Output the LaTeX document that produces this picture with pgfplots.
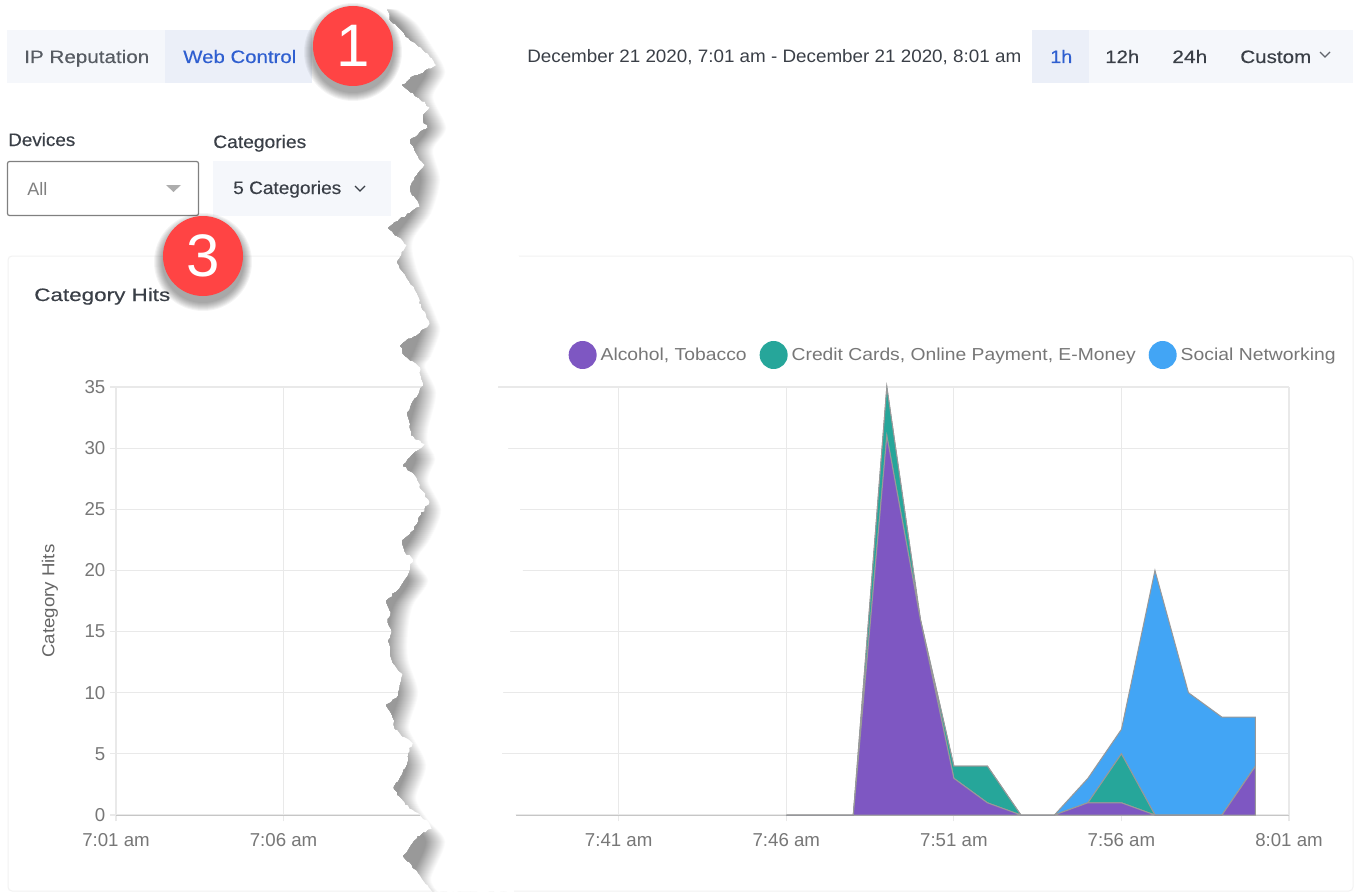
\documentclass[border=0pt]{standalone}
\usepackage{graphicx}
\usepackage{fontspec}
\setmainfont{Liberation Sans}
\newfontfamily\med[FakeBold=0.25]{Liberation Sans}
\usepackage{pgfplots}
\usetikzlibrary{decorations.pathmorphing}
\pgfplotsset{compat=1.18}
\newlength\pxu \setlength\pxu{0.75pt}
\newcommand\fit[2]{\resizebox{#1\pxu}{\height}{#2}}
\definecolor{pur}{HTML}{7E57C2}
\definecolor{grn}{HTML}{26A69A}
\definecolor{blu}{HTML}{42A5F5}
\definecolor{gridc}{HTML}{E9E9E9}
\definecolor{ticktx}{HTML}{777777}
\definecolor{soft}{HTML}{F5F7FB}
\definecolor{softb}{HTML}{EBEFF8}
\definecolor{dark}{HTML}{3A3F47}
\definecolor{linkb}{HTML}{2F5FD0}
\definecolor{badge}{HTML}{FF4444}
\def\tearJ{(390,20) -- (397,26) -- (404,33) -- (410,40) -- (418,46) -- (425,52) -- (432,58) -- (437,65) -- (428,69) -- (418,75) -- (410,79) -- (402,85) -- (410,92) -- (419,98) -- (430,107) -- (425,113) -- (423,120) -- (428,128) -- (420,132) -- (410,140) -- (414,148) -- (418,156) -- (425,165) -- (417,175) -- (410,188) -- (414,196) -- (420,207) -- (410,213) -- (398,221) -- (388,228) -- (397,236) -- (407,245) -- (402,252) -- (397,262) -- (403,272) -- (409,281) -- (417,293) -- (421,304) -- (427,318) -- (430,324) -- (420,333) -- (408,339) -- (400,346) -- (405,356) -- (413,361) -- (420,367) -- (421,376) -- (423,386) -- (417,397) -- (412,403) -- (407,413) -- (410,425) -- (411,435) -- (425,444) -- (415,452) -- (403,466) -- (412,472) -- (418,481) -- (422,490) -- (430,502) -- (421,515) -- (414,530) -- (402,541) -- (405,552) -- (413,559) -- (410,570) -- (403,583) -- (396,592) -- (386,601) -- (391,612) -- (388,623) -- (392,632) -- (388,641) -- (390,652) -- (393,663) -- (403,674) -- (400,685) -- (398,696) -- (386,705) -- (392,715) -- (395,729) -- (405,737) -- (413,743) -- (408,754) -- (407,765) -- (400,778) -- (394,789) -- (405,804) -- (420,815) -- (427,820) -- (432,829) -- (418,836) -- (410,847) -- (403,856) -- (412,865) -- (420,875) -- (433,892)}
\def\tearC{(395,10) (413,23) (428,45) (442,72) (430,97) (443,128) (430,150) (437,180) (428,213) (410,240) (413,267) (433,317) (437,331) (428,356) (422,367) (433,393) (425,429) (425,444) (432,459) (425,481) (438,510) (427,539) (413,561) (425,581) (410,605) (405,630) (405,659) (415,692) (407,721) (407,732) (423,765) (413,798) (425,820) (442,842) (428,878) (435,892)}
\begin{document}
\begin{tikzpicture}
\pgfmathsetseed{7}
\path[use as bounding box,fill=white] (0,0) rectangle (1017pt,-669pt);
\begin{scope}[x=0.75pt,y=-0.75pt]
  % card
  \draw[draw=black!5,rounded corners=3pt,line width=0.75pt] (8,256) rectangle (1353,891);
  % button groups
  \fill[soft] (7,30) rectangle (165,83);
  \fill[softb] (165,30) rectangle (312,83);
  \fill[soft] (1089,30) rectangle (1353,83);
  \fill[softb] (1032,30) rectangle (1089,83);
  \fill[soft] (213,161) rectangle (391,216);
  \draw[draw=black!50,line width=0.9pt,rounded corners=1.5pt,fill=white] (7.5,161.5) rectangle (198.5,215.5);
  \fill[black!32] (166,185) -- (181,185) -- (173.5,192) -- cycle;
  \draw[dark,line width=1pt] (355,186) -- (360,191) -- (365,186);
  \draw[dark!80,line width=1pt] (1320,52) -- (1325,57) -- (1330,52);
  \begin{scope}[every node/.style={inner sep=0pt,anchor=base west,font=\fontsize{13.5}{15}\med}]
    \node[text=dark!85] at (24,63) {\fit{125}{IP Reputation}};
    \node[text=linkb] at (183,63) {\fit{113}{Web Control}};
    \node[text=dark] at (8,146) {\fit{67}{Devices}};
    \node[text=dark] at (213,148) {\fit{93}{Categories}};
    \node[text=black!50,font=\fontsize{13.5}{15}\selectfont] at (27,195) {\fit{20}{All}};
    \node[text=dark] at (233,194) {\fit{108}{5 Categories}};
    \node[text=dark,font=\fontsize{13.5}{15}\selectfont] at (527,63) {\fit{494}{December 21 2020, 7:01 am - December 21 2020, 8:01 am}};
    \node[text=linkb] at (1050,63) {\fit{22}{1h}};
    \node[text=dark] at (1105,63) {\fit{34}{12h}};
    \node[text=dark] at (1172,63) {\fit{35}{24h}};
    \node[text=dark] at (1240,63) {\fit{71}{Custom}};
    \node[text=dark] at (34,301) {\fit{136}{Category Hits}};
  \end{scope}
\end{scope}

\begin{axis}[
  at={(87pt,-611.25pt)}, anchor=south west,
  scale only axis, width=1173\pxu, height=428\pxu,
  xmin=-15, xmax=20, ymin=0, ymax=35,
  stack plots=y,
  axis lines=left,
  x axis line style={draw=gridc!85!black,-},
  y axis line style={draw=gridc,-},
  grid=major,
  grid style={gridc,line width=0.85pt},
  tick style={draw=gridc,line width=0.85pt},
  major tick length=6\pxu,
  tick align=outside,
  xtick={-15,-10,0,5,10,15,20},
  xticklabels={7:01 am,7:06 am,7:41 am,7:46 am,7:51 am,7:56 am,8:01 am},
  ytick={0,5,10,15,20,25,30,35},
  /pgf/number format/assume math mode=true,
  tick label style={font=\fontsize{14}{16}\selectfont,text=ticktx},
  xticklabel style={yshift=-8\pxu},
  clip=false,
  legend columns=3,
  legend style={at={(1.0409,1.0748)},anchor=east,draw=none,fill=none,inner sep=0pt,
    font=\fontsize{13}{15}\selectfont,text=ticktx,
    /tikz/every even column/.append style={column sep=12\pxu},
    /tikz/every odd column/.append style={column sep=3\pxu},
    nodes={inner sep=1\pxu}},
  legend image code/.code={\path[#1,draw=none] (0pt,0pt) circle (10.5pt);},
  every axis plot/.append style={draw=black!40,line width=0.75pt},
]
\addplot[fill=pur] coordinates {(5,0) (6,0) (7,0) (8,31) (9,16) (10,3) (11,1) (12,0) (13,0) (14,1) (15,1) (16,0) (17,0) (18,0) (19,4)} \closedcycle;
\addlegendentry{\fit{146}{Alcohol, Tobacco}}
\addplot[fill=grn] coordinates {(5,0) (6,0) (7,0) (8,4) (9,0) (10,1) (11,3) (12,0) (13,0) (14,0) (15,4) (16,0) (17,0) (18,0) (19,0)} \closedcycle;
\addlegendentry{\fit{344}{Credit Cards, Online Payment, E-Money}}
\addplot[fill=blu] coordinates {(5,0) (6,0) (7,0) (8,0) (9,0) (10,0) (11,0) (12,0) (13,0) (14,2) (15,2) (16,20) (17,10) (18,8) (19,4)} \closedcycle;
\addlegendentry{\fit{155}{Social Networking}}
\end{axis}

\begin{scope}[x=0.75pt,y=-0.75pt]
  \node[rotate=90,inner sep=0pt,text=ticktx!85!black,font=\fontsize{13}{15}\selectfont] at (50,601) {\fit{113}{Category Hits}};
  % torn paper gap
  \begin{scope}
    \path[clip,decorate,decoration={random steps,segment length=2.5pt,amplitude=0.9pt}] (385,0) -- \tearJ -- (514,892) -- (516,815) -- (502,754) -- (503,693) -- (510,632) -- (523,571) -- (520,510) -- (508,449) -- (498,386) -- (518,262) -- (520,250) -- (520,0) -- cycle;
    \fill[white] (380,0) rectangle (530,892);
    \foreach \k in {0,...,20} {
      \pgfmathsetmacro\c{\k*2}
      \begin{scope}[xshift=-\k*0.75pt+3pt]
        \fill[black!\c] (300,0) -- plot[smooth] coordinates {\tearC} -- (300,892) -- cycle;
      \end{scope}
    }
  \end{scope}
  % badges
  \foreach \cx/\cy/\d in {353/46/1,203/256/3} {
    \foreach \r in {49,48,47,46,45,44,43,42,41} {
      \fill[black,opacity=0.045] (\cx,\cy+6) circle (\r*0.75pt);
    }
    \fill[badge] (\cx,\cy) circle (30pt);
    \node[text=white,inner sep=0pt,font=\fontsize{45}{50}\selectfont] at (\cx,\cy) {\d};
  }
\end{scope}
\end{tikzpicture}
\end{document}
